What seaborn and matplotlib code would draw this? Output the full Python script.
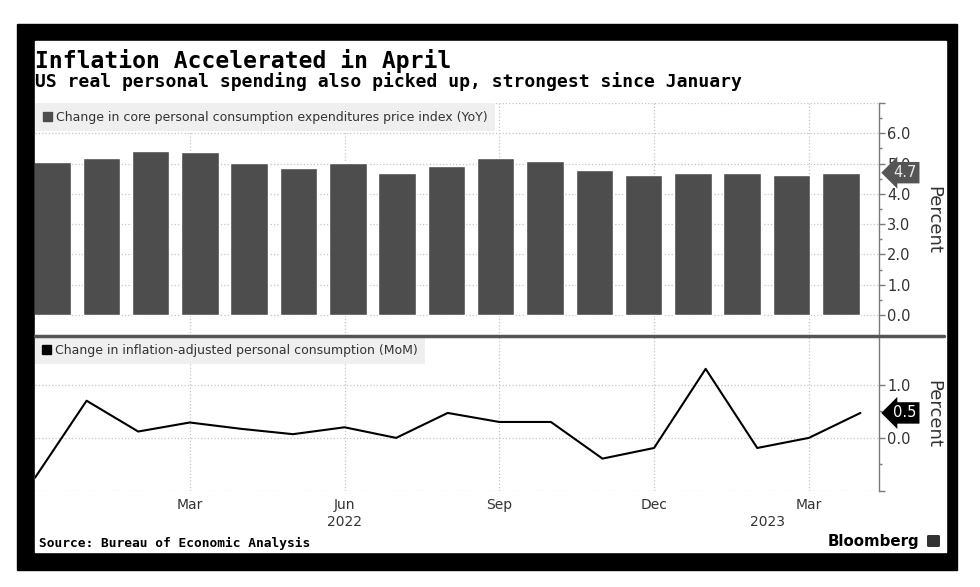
import numpy as np
import pandas as pd
import matplotlib
from matplotlib import pyplot as plt
from matplotlib.patches import Patch, Rectangle, FancyBboxPatch
from matplotlib.lines import Line2D
import seaborn as sns

W, H = 980, 587

# data (Dec 2021 .. Apr 2023)
months = pd.date_range("2021-12-01", periods=17, freq="MS")
core_pce_yoy = [5.05, 5.2, 5.42, 5.37, 5.02, 4.87, 5.02, 4.7, 4.92, 5.2, 5.09, 4.8, 4.62, 4.7, 4.68, 4.62, 4.7]
real_spending_mom = [-0.75, 0.70, 0.12, 0.29, 0.17, 0.07, 0.20, 0.0, 0.47, 0.30, 0.30, -0.39, -0.19, 1.30, -0.19, 0.0, 0.47]
top_label = "Change in core personal consumption expenditures price index (YoY)"
bottom_label = "Change in inflation-adjusted personal consumption (MoM)"
top_yticks = [0, 1, 2, 3, 4, 5, 6, 7]
bottom_yticks = [-1, 0, 1]
year_labels = ["2022", "2023"]

sns.set_style("white")
plt.rcParams['font.family'] = ['DejaVu Sans']
plt.rcParams['text.color'] = '#333333'

GRAY = '#7a7a7a'
BAR = '#4d4d4d'


def px(x0, y0, x1, y1):
    # pixel box of the 980x587 picture -> figure fraction rect
    return [x0 / W, 1 - y1 / H, (x1 - x0) / W, (y1 - y0) / H]


fig = plt.figure(figsize=(W / 100, H / 100), dpi=100)
fig.patches.append(Rectangle((17 / W, 1 - 570 / H), 940 / W, 546 / H,
                             transform=fig.transFigure, color='black', zorder=-10))
fig.patches.append(Rectangle((35 / W, 1 - 552 / H), 911 / W, 511 / H,
                             transform=fig.transFigure, color='white', zorder=-9))

ax_top = fig.add_axes(px(35, 103, 879, 336))
ax_bot = fig.add_axes(px(35, 337, 879, 491))

idx = np.arange(len(months))
# quarter ticks; the first month sits on the left edge and gets no tick
tick_idx = [i for i, m in enumerate(months) if m.month in (3, 6, 9, 12) and i > 0]
xmax = 16.36


def style_axis(ax, yticks, ylim):
    ax.set_xlim(0, xmax)
    ax.set_ylim(*ylim)
    ax.set_xticks(tick_idx)
    ax.set_yticks(yticks)
    ax.set_yticks(np.array(yticks[:-1]) + 0.5, minor=True)
    ax.yaxis.tick_right()
    ax.grid(True, which='major', ls=':', color='#c4c4c4', lw=0.9)
    for s in ['top', 'left', 'bottom']:
        ax.spines[s].set_visible(False)
    ax.spines['right'].set_color(GRAY)
    ax.spines['right'].set_linewidth(1.0)
    ax.tick_params(axis='y', which='major', length=4.5, width=1, color=GRAY,
                   labelsize=10.5, labelcolor='#333333', pad=1.5)
    ax.tick_params(axis='y', which='minor', length=2.5, width=1, color=GRAY)
    ax.set_ylabel('Percent', rotation=270, fontsize=13, color='#333333', va='center', ha='center')
    ax.yaxis.set_label_coords(1.064, 0.5)


# ---- top panel: bars ----
style_axis(ax_top, top_yticks, (-0.69, 7.0))
ax_top.set_yticklabels([f"{v:.1f}" for v in top_yticks[:-1]] + [""])
ax_top.tick_params(axis='x', length=0, labelbottom=False)

ax_bars = ax_top.twiny()
sns.barplot(x=[m.strftime('%Y-%m') for m in months], y=core_pce_yoy, ax=ax_bars,
            color=BAR, saturation=1, width=0.76)
ax_bars.set_xlim(-0.345, 16.775)
ax_bars.set_xticks([])
ax_bars.set_xlabel('')
for s in ax_bars.spines.values():
    s.set_visible(False)
ax_top.set_ylim(-0.69, 7.0)

leg = ax_bars.legend(handles=[Patch(color=BAR, label=top_label)], loc='upper left',
                     bbox_to_anchor=(0, 1), borderaxespad=0, fancybox=False,
                     facecolor='#efefef', edgecolor='none', framealpha=1, fontsize=9,
                     handlelength=0.75, handleheight=0.75, handletextpad=0.3, borderpad=0.6)
for t in leg.get_texts():
    t.set_color('#333333')

ax_top.annotate(f"{core_pce_yoy[-1]:.1f}", xy=(1, core_pce_yoy[-1]),
                xycoords=('axes fraction', 'data'), xytext=(10, 0), textcoords='offset points',
                va='center', ha='left', color='#e8e8e8', fontsize=10.5, zorder=10,
                annotation_clip=False,
                bbox=dict(boxstyle='larrow,pad=0.22', fc='#555555', ec='none'))

# ---- bottom panel: line ----
sns.lineplot(x=idx, y=real_spending_mom, ax=ax_bot, color='black', lw=1.5)
style_axis(ax_bot, bottom_yticks, (-1.0, 1.9))
ax_bot.set_yticklabels([""] + [f"{v:.1f}" for v in bottom_yticks[1:]])
ax_bot.set_xticklabels([months[i].strftime('%b') for i in tick_idx])
ax_bot.tick_params(axis='x', length=0, labelsize=10, labelcolor='#333333', pad=5)
ax_bot.set_xlabel('')

leg = ax_bot.legend(handles=[Patch(color='black', label=bottom_label)], loc='upper left',
                    bbox_to_anchor=(0, 1), borderaxespad=0, fancybox=False,
                    facecolor='#efefef', edgecolor='none', framealpha=1, fontsize=9,
                    handlelength=0.75, handleheight=0.75, handletextpad=0.3, borderpad=0.55)
for t in leg.get_texts():
    t.set_color('#333333')

ax_bot.annotate(f"{real_spending_mom[-1]:.1f}", xy=(1, real_spending_mom[-1]),
                xycoords=('axes fraction', 'data'), xytext=(10, 0), textcoords='offset points',
                va='center', ha='left', color='white', fontsize=10.5, zorder=10,
                annotation_clip=False,
                bbox=dict(boxstyle='larrow,pad=0.22', fc='black', ec='none'))

# year labels under the month ticks
year_pos = [6, 14.2]
for yl, xp in zip(year_labels, year_pos):
    ax_bot.text(xp, -0.2, yl, transform=ax_bot.get_xaxis_transform(),
                ha='center', va='center', fontsize=10, color='#333333')

# separator between panels
fig.add_artist(Line2D([35 / W, 944 / W], [1 - 336 / H] * 2, color='#555555', lw=2.5))

# titles
fig.text(35 / W, 1 - 68 / H, "Inflation Accelerated in April", family='DejaVu Sans Mono',
         weight='bold', fontsize=16.6, color='black', va='baseline')
fig.text(35 / W, 1 - 86.5 / H, "US real personal spending also picked up, strongest since January",
         family='DejaVu Sans Mono', weight='bold', fontsize=13, color='black', va='baseline')
fig.text(39 / W, 1 - 547 / H, "Source: Bureau of Economic Analysis", family='DejaVu Sans Mono',
         weight='bold', fontsize=9.3, color='black', va='baseline')
fig.text(919 / W, 1 - 546 / H, "Bloomberg", weight='bold', fontsize=10.8, color='black',
         ha='right', va='baseline')
fig.patches.append(FancyBboxPatch((927 / W, 1 - 547 / H), 13 / W, 12 / H,
                                  boxstyle='round,pad=0,rounding_size=0.002',
                                  transform=fig.transFigure, fc='#333333', ec='none'))

plt.savefig('out.png', dpi=100)
